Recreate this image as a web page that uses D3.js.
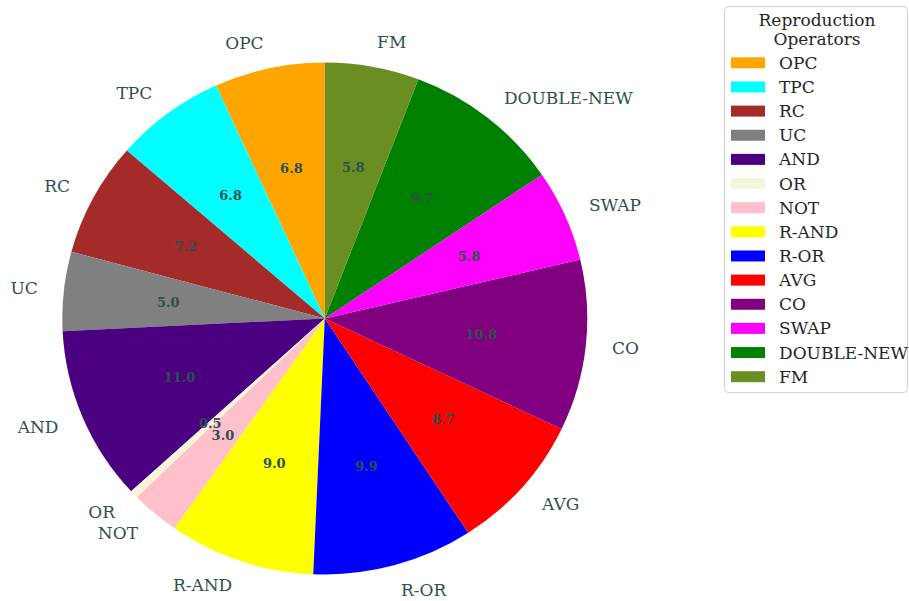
<!DOCTYPE html>
<html>
<head>
<meta charset="utf-8">
<script src="https://cdn.jsdelivr.net/npm/d3@7"></script>
<style>
  body { margin: 0; background: #fff; }
  text { font-family: "DejaVu Serif", serif; }
</style>
</head>
<body>
<svg id="chart" width="909" height="601"></svg>
<script>
// data
var operators = ["OPC", "TPC", "RC", "UC", "AND", "OR", "NOT", "R-AND", "R-OR", "AVG", "CO", "SWAP", "DOUBLE-NEW", "FM"];
var shares = [6.8, 6.8, 7.2, 5.0, 11.0, 0.5, 3.0, 9.0, 9.9, 8.7, 10.8, 5.8, 9.7, 5.8];
var sliceColors = ["orange", "cyan", "brown", "gray", "indigo", "beige", "pink", "yellow", "blue", "red", "purple", "magenta", "green", "olivedrab"];
var legendTitle = ["Reproduction", "Operators"];

var svg = d3.select("#chart");

// pie geometry (the picture is a bit squashed vertically)
var cx = 324.8, cy = 318.5, r = 262.5, squash = 0.975;

var data = operators.map(function (d, i) {
    return {name: d, value: shares[i], color: sliceColors[i]};
});

// matplotlib style: start at top, go counter-clockwise
var pie = d3.pie()
    .sort(null)
    .value(function (d) { return d.value; })
    .startAngle(0)
    .endAngle(-2 * Math.PI);

var arcs = pie(data);
var arc = d3.arc().innerRadius(0).outerRadius(r);

var g = svg.append("g")
    .attr("transform", "translate(" + cx + "," + cy + ") scale(1," + squash + ")");

g.selectAll(".slice")
    .data(arcs)
    .enter().append("path")
    .attr("class", "slice")
    .attr("d", arc)
    .attr("fill", function (d) { return d.data.color; });

function midPoint(d, k) {
    var a = (d.startAngle + d.endAngle) / 2;
    return [Math.sin(a) * r * k, -Math.cos(a) * r * k];
}

// percentage labels
g.selectAll(".pct")
    .data(arcs)
    .enter().append("text")
    .attr("class", "pct")
    .attr("x", function (d) { return midPoint(d, 0.6)[0]; })
    .attr("y", function (d) { return midPoint(d, 0.6)[1]; })
    .attr("text-anchor", "middle")
    .attr("dominant-baseline", "central")
    .attr("font-size", 13)
    .attr("font-weight", "bold")
    .attr("fill", "#2f4f4f")
    .text(function (d) { return d.data.value.toFixed(1); });

// outer names
g.selectAll(".name")
    .data(arcs)
    .enter().append("text")
    .attr("class", "name")
    .attr("x", function (d) { return midPoint(d, 1.1)[0]; })
    .attr("y", function (d) { return midPoint(d, 1.1)[1]; })
    .attr("text-anchor", function (d) { return midPoint(d, 1.1)[0] < 0 ? "end" : "start"; })
    .attr("dominant-baseline", "central")
    .attr("font-size", 17)
    .attr("fill", "#2f4f4f")
    .text(function (d) { return d.data.name; });

// legend
var lg = svg.append("g").attr("class", "legend");

lg.append("rect")
    .attr("x", 724.5).attr("y", 6.5)
    .attr("width", 183).attr("height", 386)
    .attr("rx", 4)
    .attr("fill", "#fff")
    .attr("stroke", "#d0d0d0");

lg.selectAll(".ltitle")
    .data(legendTitle)
    .enter().append("text")
    .attr("class", "ltitle")
    .attr("x", 817)
    .attr("y", function (d, i) { return 20 + i * 19; })
    .attr("text-anchor", "middle")
    .attr("dominant-baseline", "central")
    .attr("font-size", 17)
    .attr("fill", "#262626")
    .text(function (d) { return d; });

var ly = d3.scaleLinear().domain([0, operators.length - 1]).range([62.8, 376.7]);

var item = lg.selectAll(".item")
    .data(data)
    .enter().append("g")
    .attr("class", "item")
    .attr("transform", function (d, i) { return "translate(0," + ly(i) + ")"; });

item.append("rect")
    .attr("x", 731).attr("y", -5.5)
    .attr("width", 34).attr("height", 11)
    .attr("fill", function (d) { return d.color; });

item.append("text")
    .attr("x", 779)
    .attr("y", 0)
    .attr("dominant-baseline", "central")
    .attr("font-size", 17)
    .attr("fill", "#262626")
    .text(function (d) { return d.name; });
</script>
</body>
</html>
